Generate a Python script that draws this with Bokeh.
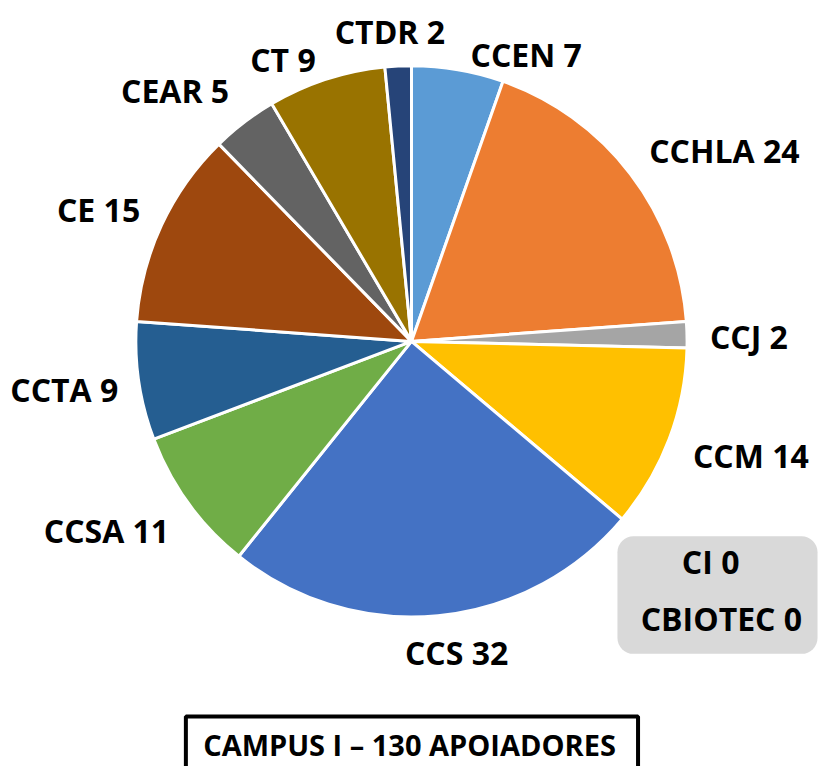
import math
from bokeh.plotting import figure
from bokeh.models import Range1d, BoxAnnotation, ColumnDataSource
from bokeh.core.properties import value
from bokeh.embed import file_html
from bokeh.resources import INLINE

# ---- data ----
categories = ["CCEN", "CCHLA", "CCJ", "CCM", "CCS", "CCSA", "CCTA", "CE", "CEAR", "CT", "CTDR"]
counts = [7, 24, 2, 14, 32, 11, 9, 15, 5, 9, 2]
colors = ["#5B9BD5", "#ED7D31", "#A5A5A5", "#FFC000", "#4472C4", "#70AD47",
          "#255E91", "#9E480E", "#636363", "#997300", "#264478"]
zero_categories = ["CI", "CBIOTEC"]
zero_counts = [0, 0]
title_text = "CAMPUS I \u2013 130 APOIADORES"

# ---- layout (reference pixel coords mapped onto the plot area) ----
W, H = 819, 766
SX, SY = W / 835, H / 782
def px(X):
    return X * SX
def py(Y):
    return (782 - Y) * SY

cx, cy, R = px(419), py(348), 281 * SX
label_pos = [(536, 55), (738, 153), (763, 343), (765, 464), (465, 666), (108, 541),
             (65, 397), (100, 213), (178, 92), (288, 60), (397, 32)]
zero_pos = [(724, 573), (735, 631)]
FS = "32px"

total = sum(counts)
starts, ends = [], []
acc = 0
for c in counts:
    starts.append(math.pi / 2 - acc / total * 2 * math.pi)
    acc += c
    ends.append(math.pi / 2 - acc / total * 2 * math.pi)

p = figure(width=W, height=H, output_backend="svg", toolbar_location=None,
           x_range=Range1d(0, W), y_range=Range1d(0, H),
           x_axis_type=None, y_axis_type=None, min_border=0)
p.grid.visible = False
p.outline_line_color = None
p.background_fill_color = "white"

src = ColumnDataSource(dict(start=starts, end=ends, color=colors))
p.wedge(x=cx, y=cy, radius=R, start_angle="start", end_angle="end", direction="clock",
        fill_color="color", line_color="white", line_width=3, source=src)

labels = [f"{c} {v}" for c, v in zip(categories, counts)]
lsrc = ColumnDataSource(dict(x=[px(a) for a, b in label_pos], y=[py(b) for a, b in label_pos], t=labels))
p.text(x="x", y="y", text="t", source=lsrc, text_font=value("Open Sans"),
       text_font_style="bold", text_font_size=FS, text_align="center",
       text_baseline="middle", text_color="black")

# gray box with zero categories
p.add_layout(BoxAnnotation(left=px(629), right=px(833), top=py(547), bottom=py(667),
                           fill_color="#D9D9D9", fill_alpha=1, line_color=None,
                           border_radius=16, level="underlay"))
zlabels = [f"{c} {v}" for c, v in zip(zero_categories, zero_counts)]
zsrc = ColumnDataSource(dict(x=[px(a) for a, b in zero_pos], y=[py(b) for a, b in zero_pos], t=zlabels))
p.text(x="x", y="y", text="t", source=zsrc, text_font=value("Open Sans"),
       text_font_style="bold", text_font_size=FS, text_align="center",
       text_baseline="middle", text_color="black")

# title box
p.add_layout(BoxAnnotation(left=px(189), right=px(650), top=py(731), bottom=-20,
                           fill_alpha=0, line_color="black", line_alpha=1, line_width=4,
                           level="underlay"))
p.text(x=[px(417)], y=[py(760)], text=[title_text], text_font=value("Open Sans"),
       text_font_style="bold", text_font_size="29px", text_align="center",
       text_baseline="middle", text_color="black")

open("out.html", "w").write(file_html(p, INLINE))
